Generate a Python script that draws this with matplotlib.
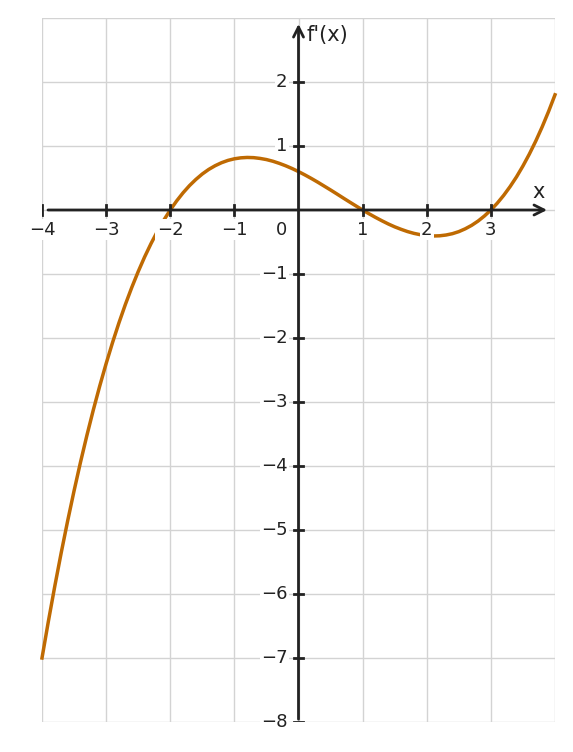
import numpy as np
import matplotlib
matplotlib.use("Agg")
import matplotlib.pyplot as plt

x_vals = np.linspace(-4, 4, 81)
y_vals = [-7.000, -6.424, -5.875, -5.353, -4.858, -4.388, -3.942, -3.522, -3.125, -2.751,
          -2.400, -2.071, -1.763, -1.476, -1.210, -0.963, -0.734, -0.525, -0.333, -0.158,
          0.000, 0.142, 0.269, 0.381, 0.478, 0.563, 0.634, 0.692, 0.739, 0.775,
          0.800, 0.815, 0.821, 0.818, 0.806, 0.788, 0.762, 0.729, 0.691, 0.648,
          0.600, 0.548, 0.493, 0.435, 0.374, 0.313, 0.250, 0.186, 0.123, 0.061,
          0.000, -0.059, -0.115, -0.168, -0.218, -0.263, -0.302, -0.337, -0.365, -0.386,
          -0.400, -0.406, -0.403, -0.391, -0.370, -0.338, -0.294, -0.240, -0.173, -0.093,
          0.000, 0.107, 0.229, 0.366, 0.518, 0.688, 0.874, 1.077, 1.299, 1.540,
          1.800]

x_ticks = [-4, -3, -2, -1, 1, 2, 3]
y_ticks = [2, 1, -1, -2, -3, -4, -5, -6, -7, -8]

curve_color = "#bf6a02"
axis_color = "#222222"

fig = plt.figure(figsize=(5.73, 7.52), dpi=100)
ax = fig.add_axes([42 / 573, 30 / 752, 513 / 573, 704 / 752])
ax.set_xlim(-4, 4)
ax.set_ylim(-8, 3)

# grid
for gx in range(-4, 5):
    ax.axvline(gx, color="#d3d3d3", lw=1, zorder=0)
for gy in range(-8, 4):
    ax.axhline(gy, color="#d3d3d3", lw=1, zorder=0)

for s in ax.spines.values():
    s.set_visible(False)
ax.set_xticks([])
ax.set_yticks([])

# curve
ax.plot(x_vals, y_vals, color=curve_color, lw=2.5, zorder=2, clip_on=False,
        solid_joinstyle="round")

# axes with arrows
ax.annotate("", xy=(3.92, 0), xytext=(-3.95, 0),
            arrowprops=dict(arrowstyle="->", color=axis_color, lw=2, mutation_scale=18),
            zorder=3)
ax.annotate("", xy=(0, 2.95), xytext=(0, -8),
            arrowprops=dict(arrowstyle="->", color=axis_color, lw=2, mutation_scale=18),
            zorder=3)

tick_len = 0.08
lbl_box = dict(facecolor="white", edgecolor="none", pad=1)
for tx in x_ticks:
    ax.plot([tx, tx], [-tick_len, tick_len], color=axis_color, lw=2, zorder=3)
    ax.text(tx, -0.17, str(tx).replace("-", "\u2212"), ha="center", va="top",
            fontsize=13, color=axis_color, bbox=lbl_box, zorder=4)
for ty in y_ticks:
    ax.plot([-tick_len * 0.8, tick_len * 0.8], [ty, ty], color=axis_color, lw=2, zorder=3)
    ax.text(-0.17, ty, str(ty).replace("-", "\u2212"), ha="right", va="center",
            fontsize=13, color=axis_color, bbox=lbl_box, zorder=4)

ax.text(-0.18, -0.17, "0", ha="right", va="top", fontsize=13, color=axis_color, zorder=4)
ax.text(3.75, 0.13, "x", ha="center", va="bottom", fontsize=15, color=axis_color)
ax.text(0.12, 2.73, "f'(x)", ha="left", va="center", fontsize=15, color=axis_color)

fig.savefig("out.png", dpi=100)
